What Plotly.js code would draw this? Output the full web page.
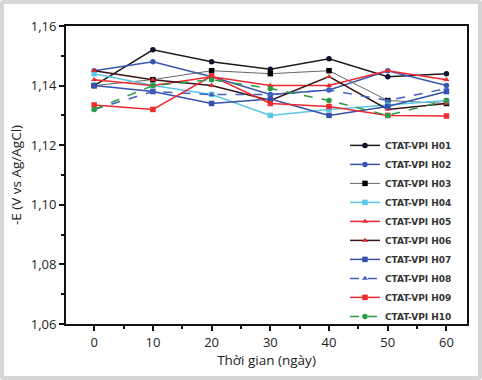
<!DOCTYPE html>
<html><head><meta charset="utf-8">
<script src="https://cdn.plot.ly/plotly-3.0.1.min.js"></script>
<style>
html,body{margin:0;padding:0;background:#fff;}
#wrap{position:relative;width:482px;height:380px;}
#chart{position:absolute;left:0;top:0;width:482px;height:380px;}
#frame{position:absolute;left:0;top:0;width:474px;height:372px;border:4px solid #d6d6d6;border-radius:3px;pointer-events:none;}
</style></head>
<body>
<div id="wrap"><div id="chart"></div><div id="frame"></div></div>
<script>
const days = [0, 10, 20, 30, 40, 50, 60];
const names = ["CTAT-VPI H01","CTAT-VPI H02","CTAT-VPI H03","CTAT-VPI H04","CTAT-VPI H05",
               "CTAT-VPI H06","CTAT-VPI H07","CTAT-VPI H08","CTAT-VPI H09","CTAT-VPI H10"];
const H01 = [1.140, 1.152, 1.148, 1.1455, 1.149, 1.143, 1.144];
const H02 = [1.145, 1.148, 1.143, 1.137, 1.1385, 1.145, 1.140];
const H03 = [1.140, 1.142, 1.145, 1.144, 1.145, 1.135, 1.134];
const H04 = [1.144, 1.140, 1.137, 1.130, 1.132, 1.1335, 1.135];
const H05 = [1.142, 1.140, 1.143, 1.140, 1.140, 1.145, 1.142];
const H06 = [1.145, 1.142, 1.140, 1.135, 1.143, 1.132, 1.134];
const H07 = [1.140, 1.138, 1.134, 1.1355, 1.130, 1.133, 1.138];
const H08 = [1.132, 1.138, 1.137, 1.137, 1.1385, 1.135, 1.139];
const H09 = [1.1335, 1.132, 1.1432, 1.134, 1.133, 1.130, 1.1298];
const H10 = [1.132, 1.140, 1.142, 1.139, 1.135, 1.130, 1.135];
const series = [H01,H02,H03,H04,H05,H06,H07,H08,H09,H10];

const styles = [
  {lc:"#1c1c1c", mc:"#101030", sym:"circle", dash:"solid", lw:1.5},
  {lc:"#3a55b0", mc:"#3a55b0", sym:"circle", dash:"solid", lw:1.5},
  {lc:"#666666", mc:"#000000", sym:"square", dash:"solid", lw:1},
  {lc:"#5cc6e6", mc:"#5cc6e6", sym:"square", dash:"solid", lw:1.5},
  {lc:"#ee2a2f", mc:"#ee2a2f", sym:"triangle-up", dash:"solid", lw:1.5},
  {lc:"#3a1414", mc:"#e02a2a", sym:"triangle-up", dash:"solid", lw:1.5},
  {lc:"#3650ad", mc:"#3650ad", sym:"square", dash:"solid", lw:1.5},
  {lc:"#3f62c4", mc:"#3f62c4", sym:"triangle-up", dash:"dash", lw:1.5},
  {lc:"#ee2a2f", mc:"#ee2a2f", sym:"square", dash:"solid", lw:1.5},
  {lc:"#2a9a48", mc:"#2a9a48", sym:"circle", dash:"dash", lw:1.5}
];

const traces = series.map((s, i) => ({
  x: days, y: s, name: names[i], type: "scatter", mode: "lines+markers",
  line: {color: styles[i].lc, width: styles[i].lw, dash: styles[i].dash},
  marker: {color: styles[i].mc, symbol: styles[i].sym, size: 5.5}
}));

const font = "Open Sans, Noto Sans, sans-serif";
const layout = {
  width: 482, height: 380,
  margin: {l: 66, r: 15, t: 26, b: 56},
  paper_bgcolor: "rgba(0,0,0,0)", plot_bgcolor: "#fff",
  separators: ",.",
  font: {family: font, color: "#1a1a1a"},
  showlegend: true,
  legend: {
    x: 0.975, xanchor: "right", y: 0.648, yanchor: "top",
    bgcolor: "rgba(255,255,255,0)", borderwidth: 0,
    font: {size: 9, color: "#333", family: "DejaVu Sans, sans-serif", weight: "bold"},
    itemwidth: 30, tracegroupgap: 0
  },
  xaxis: {
    range: [-4.8, 63.5], tickvals: [0,10,20,30,40,50,60],
    ticks: "outside", ticklen: 5, tickwidth: 2, tickcolor: "#111",
    minor: {tickvals: [-5,5,15,25,35,45,55], ticks: "outside", ticklen: 3, tickwidth: 2, tickcolor: "#111"},
    showline: true, linecolor: "#111", linewidth: 2, mirror: true,
    showgrid: false, zeroline: false,
    tickfont: {size: 13, color: "#222"},
    title: {text: "Thời gian (ngày)", font: {size: 13.5, color: "#222"}, standoff: 4}
  },
  yaxis: {
    range: [1.06, 1.16], tickvals: [1.06,1.08,1.10,1.12,1.14,1.16], tickformat: ".2f",
    ticks: "outside", ticklen: 5, tickwidth: 2, tickcolor: "#111",
    minor: {tickvals: [1.07,1.09,1.11,1.13,1.15], ticks: "outside", ticklen: 3, tickwidth: 2, tickcolor: "#111"},
    showline: true, linecolor: "#111", linewidth: 2, mirror: true,
    showgrid: false, zeroline: false,
    tickfont: {size: 13, color: "#222"},
    title: {text: "-E (V vs Ag/AgCl)", font: {size: 13.5, color: "#222"}, standoff: 6}
  }
};
Plotly.newPlot("chart", traces, layout, {displayModeBar: false, staticPlot: true});
</script>
</body></html>
